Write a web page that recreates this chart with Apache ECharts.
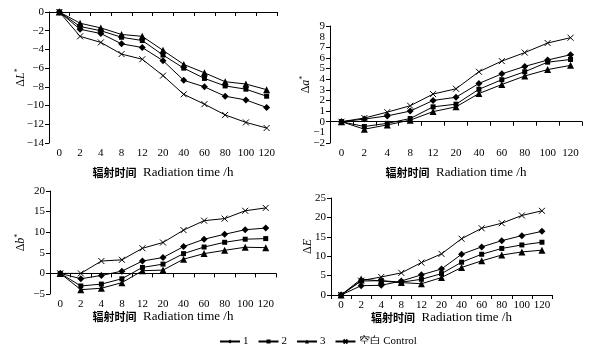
<!DOCTYPE html>
<html>
<head>
<meta charset="utf-8">
<script src="https://cdn.jsdelivr.net/npm/echarts@6/dist/echarts.min.js"></script>
<style>
  html, body { margin: 0; padding: 0; background: #fff; }
  #chart { width: 595px; height: 344px; }
</style>
</head>
<body>
<div id="chart"></div>
<script>
// radiation time categories
const hours = ["0", "2", "4", "8", "12", "20", "40", "60", "80", "100", "120"];
const seriesNames = ["1", "2", "3", "空白 Control"];

// ΔL*
const dL1 = [0, -1.85, -2.3, -3.4, -3.8, -5.2, -7.3, -8.0, -9.0, -9.4, -10.2];
const dL2 = [0, -1.55, -2.0, -2.7, -3.05, -4.6, -6.0, -7.1, -7.9, -8.25, -9.0];
const dL3 = [0, -1.2, -1.7, -2.4, -2.6, -4.1, -5.6, -6.5, -7.45, -7.7, -8.3];
const dLControl = [0, -2.6, -3.25, -4.5, -5.05, -6.8, -8.8, -9.85, -11.0, -11.8, -12.4];

// Δa*
const da1 = [0, 0.25, 0.55, 1.0, 2.0, 2.3, 3.6, 4.5, 5.2, 5.8, 6.3];
const da2 = [0, -0.45, -0.15, 0.3, 1.4, 1.65, 3.05, 3.95, 4.7, 5.6, 5.85];
const da3 = [0, -0.7, -0.3, 0.15, 0.95, 1.4, 2.65, 3.5, 4.3, 4.9, 5.3];
const daControl = [0, 0.35, 0.9, 1.5, 2.6, 3.1, 4.7, 5.7, 6.5, 7.4, 7.9];

// Δb*
const db1 = [0, -1.3, -0.5, 0.55, 3.0, 3.85, 6.5, 8.3, 9.5, 10.6, 11.0];
const db2 = [0, -3.05, -2.6, -1.3, 1.45, 2.25, 4.8, 6.4, 7.55, 8.3, 8.45];
const db3 = [0, -3.95, -3.6, -2.25, 0.65, 0.8, 3.45, 4.8, 5.6, 6.35, 6.25];
const dbControl = [0, 0, 3.0, 3.3, 6.1, 7.5, 10.5, 12.8, 13.3, 15.2, 15.9];

// ΔE
const dE1 = [0, 2.4, 2.5, 3.6, 5.2, 6.7, 10.5, 12.4, 14.0, 15.3, 16.4];
const dE2 = [0, 3.6, 3.7, 3.3, 4.05, 5.5, 8.45, 10.5, 12.0, 12.9, 13.6];
const dE3 = [0, 4.1, 3.6, 3.2, 2.9, 4.5, 7.1, 8.8, 10.3, 11.1, 11.55];
const dEControl = [0, 3.7, 4.65, 5.7, 8.35, 10.6, 14.5, 17.2, 18.5, 20.5, 21.7];

const chart = echarts.init(document.getElementById("chart"));

const serif = "Liberation Serif";
const cjk = "Noto Sans CJK SC";

const symbols = [
  { symbol: "diamond", size: 7 },
  { symbol: "rect", size: 5 },
  { symbol: "triangle", size: 7 },
  { symbol: "path://M0,0L10,10M10,0L0,10", size: 6 },
];

// grid boxes in pixels
const grids = [
  { left: 49, top: 12, width: 228, height: 131 },
  { left: 330, top: 26, width: 252, height: 117 },
  { left: 50, top: 191, width: 226, height: 103 },
  { left: 331, top: 198, width: 221, height: 97 },
];

const yRanges = [
  { min: -14, max: 0, interval: 2 },
  { min: -2, max: 9, interval: 1 },
  { min: -5, max: 20, interval: 5 },
  { min: 0, max: 25, interval: 5 },
];

const yNames = [
  "{d|Δ}{i|L}{s|*}",
  "{d|Δ}{i|a}{s|*}",
  "{d|Δ}{i|b}{s|*}",
  "{d|Δ}{i|E}",
];
const yNameGaps = [21, 17, 22, 17];
const xNameGaps = [23, 23, 16, 16];

const panelData = [
  [dL1, dL2, dL3, dLControl],
  [da1, da2, da3, daControl],
  [db1, db2, db3, dbControl],
  [dE1, dE2, dE3, dEControl],
];

const fmt = (v) => String(v).replace("-", "−");
const labelFont = { color: "#000", fontFamily: serif, fontSize: 11, margin: 5 };

const xAxes = grids.map((g, i) => ({
  type: "category",
  gridIndex: i,
  data: hours,
  boundaryGap: true,
  axisLine: { lineStyle: { color: "#000", width: 1 } },
  axisTick: { show: true, length: 4, lineStyle: { color: "#000" } },
  axisLabel: Object.assign({ interval: 0 }, labelFont),
  name: "{c|辐射时间}{e|  Radiation time /h}",
  nameLocation: "middle",
  nameGap: xNameGaps[i],
  nameMoveOverlap: false,
  nameTextStyle: {
    rich: {
      c: { fontFamily: cjk, fontWeight: "bold", fontSize: 11, color: "#000" },
      e: { fontFamily: serif, fontSize: 13, color: "#000" },
    },
  },
}));

const yAxes = grids.map((g, i) => ({
  type: "value",
  gridIndex: i,
  min: yRanges[i].min,
  max: yRanges[i].max,
  interval: yRanges[i].interval,
  splitLine: { show: false },
  axisLine: { show: true, lineStyle: { color: "#000", width: 1 } },
  axisTick: { show: true, length: 4, lineStyle: { color: "#000" } },
  axisLabel: Object.assign({ showMinLabel: true, showMaxLabel: true, formatter: fmt }, labelFont),
  name: yNames[i],
  nameLocation: "middle",
  nameRotate: 90,
  nameGap: yNameGaps[i],
  nameMoveOverlap: false,
  nameTextStyle: {
    rich: {
      d: { fontFamily: serif, fontSize: 12, color: "#000" },
      i: { fontFamily: serif, fontSize: 12, fontStyle: "italic", color: "#000" },
      s: { fontFamily: serif, fontSize: 8, color: "#000", verticalAlign: "top", padding: [0, 0, 6, 0] },
    },
  },
}));

// Δa* labels are tightly packed; a twin axis carries the two labels that the overlap check drops
yAxes.push({
  type: "value",
  gridIndex: 1,
  position: "left",
  min: yRanges[1].min,
  max: yRanges[1].max,
  interval: yRanges[1].interval,
  splitLine: { show: false },
  axisLine: { show: false },
  axisTick: { show: false },
  axisLabel: Object.assign({
    showMinLabel: false,
    showMaxLabel: false,
    formatter: (v) => (v === -1 || v === 8 ? fmt(v) : ""),
  }, labelFont),
});

const series = [];
panelData.forEach((arrs, gi) => {
  arrs.forEach((arr, si) => {
    series.push({
      name: seriesNames[si],
      type: "line",
      xAxisIndex: gi,
      yAxisIndex: gi,
      data: arr,
      symbol: symbols[si].symbol,
      symbolSize: symbols[si].size,
      showAllSymbol: true,
      lineStyle: { color: "#000", width: 1 },
      itemStyle: { color: "#000", borderColor: "#000", borderWidth: si === 3 ? 1 : 0 },
      emphasis: { disabled: true },
      animation: false,
    });
  });
});

const option = {
  backgroundColor: "#fff",
  animation: false,
  grid: grids,
  xAxis: xAxes,
  yAxis: yAxes,
  legend: {
    data: seriesNames,
    top: 331,
    left: 214,
    itemWidth: 20,
    itemHeight: 5,
    itemGap: 9,
    textStyle: { color: "#000", fontFamily: serif, fontSize: 11, padding: [0, 0, 0, -2] },
  },
  series: series,
};

chart.setOption(option);
</script>
</body>
</html>
